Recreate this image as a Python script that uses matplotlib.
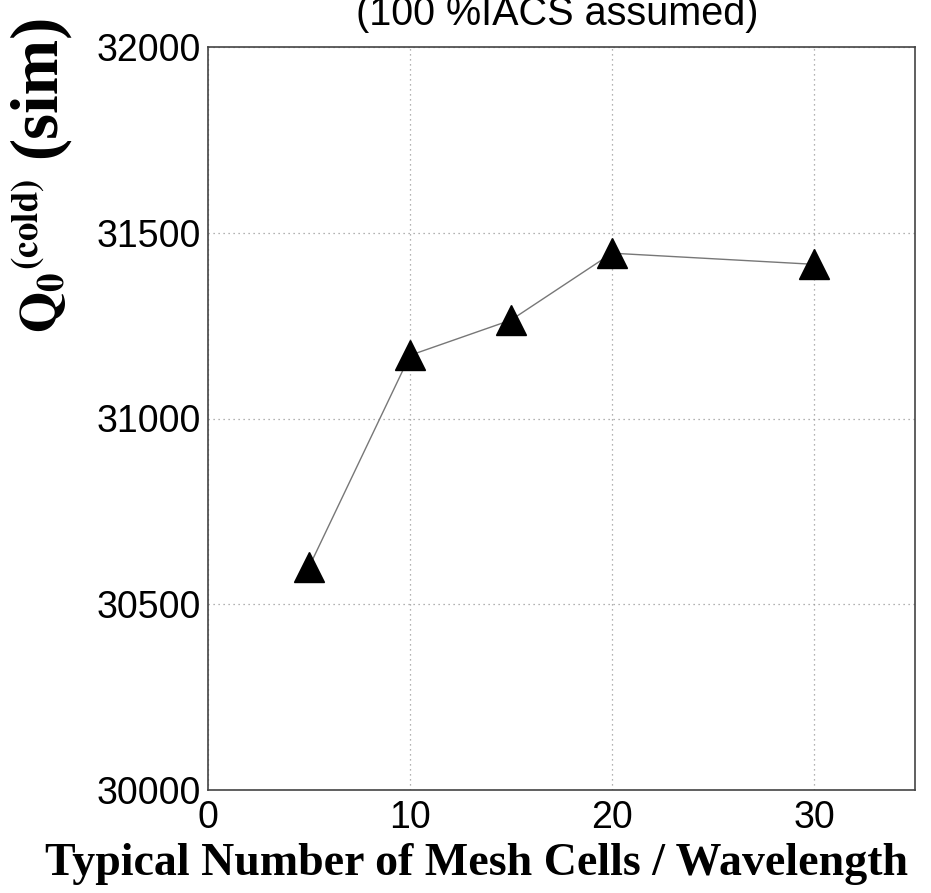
import matplotlib
matplotlib.use("Agg")
import matplotlib.pyplot as plt

plt.rcParams["mathtext.fontset"] = "stix"

mesh_cells = [5, 10, 15, 20, 30]
q0_cold = [30600, 31170, 31265, 31445, 31415]
x_ticks = [0, 10, 20, 30]
y_ticks = [30000, 30500, 31000, 31500, 32000]

W, H = 931, 893
fig = plt.figure(figsize=(W / 100, H / 100), dpi=100)
ax = fig.add_axes([208 / W, 1 - 790 / H, (915 - 208) / W, (790 - 47) / H])

ax.plot(mesh_cells, q0_cold, color="#777777", lw=1.0, marker="^",
        markersize=22, markerfacecolor="black", markeredgecolor="black", zorder=3)

ax.set_xlim(0, 35)
ax.set_ylim(30000, 32000)
ax.set_xticks(x_ticks)
ax.set_yticks(y_ticks)
ax.grid(True, linestyle=(0, (1, 3)), color="#999999", lw=0.9)
ax.tick_params(direction="in", length=0, labelsize=27)
ax.tick_params(axis="y", pad=5)
ax.tick_params(axis="x", pad=7)
for lab in ax.get_xticklabels() + ax.get_yticklabels():
    lab.set_fontfamily("Liberation Sans")
for s in ax.spines.values():
    s.set_color("#444444")
    s.set_linewidth(1.2)

fig.text(477 / W, 1 - 864 / H, "Typical Number of Mesh Cells / Wavelength",
         fontfamily="Liberation Serif", fontweight="bold", fontsize=33,
         ha="center", va="center")
# y label: Q_0^(cold) (sim)
fig.text(40 / W, 1 - 333 / H, r"$\mathbf{Q_0{}^{(cold)}}$",
         fontsize=38, rotation=90, ha="center", va="bottom")
fig.text(38 / W, 1 - 14 / H, "(sim)", fontfamily="Liberation Serif",
         fontweight="bold", fontsize=48, rotation=90, ha="center", va="top")
fig.text(557 / W, 1 - 25 / H, "(100 %IACS assumed)", ha="center", va="baseline",
         fontsize=28.5, fontfamily="Liberation Sans")

fig.savefig("out.png", dpi=100)
